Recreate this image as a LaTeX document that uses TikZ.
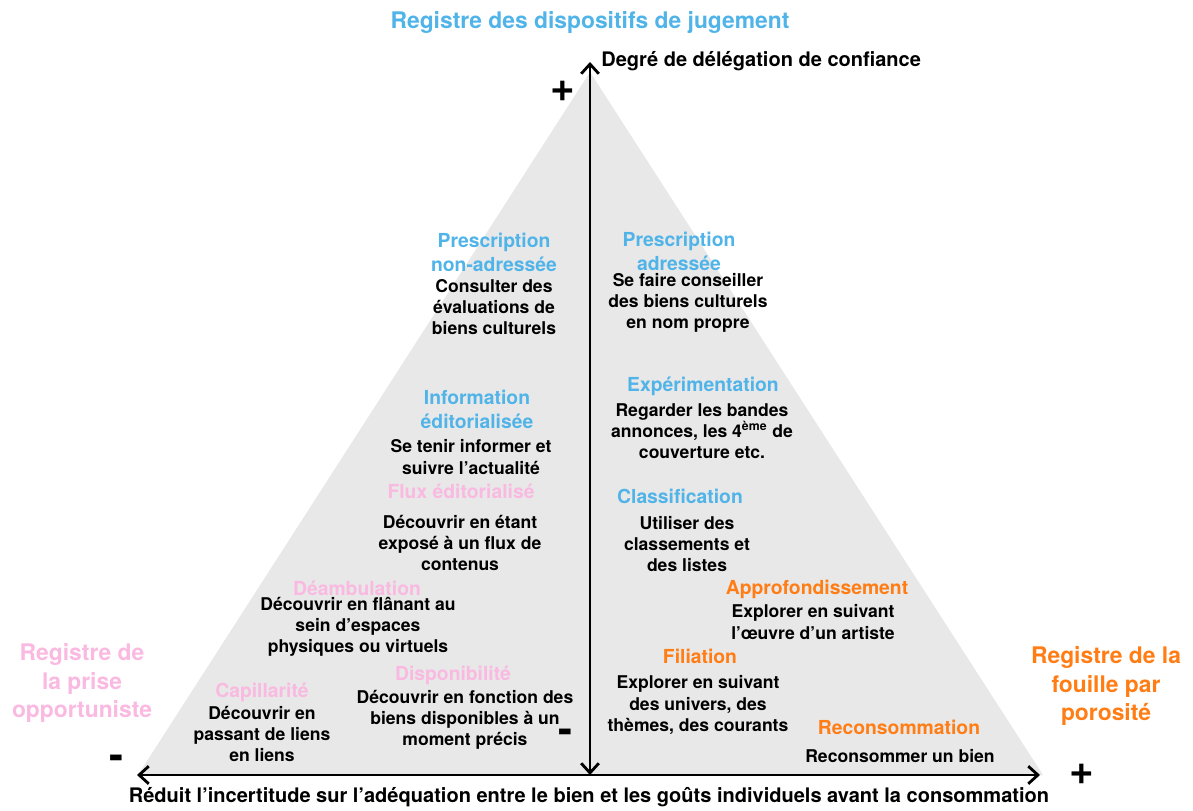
\documentclass[tikz,border=0pt]{standalone}
\usepackage{fontspec}
\setmainfont{TeX Gyre Heros}
\usetikzlibrary{arrows.meta,positioning}
\definecolor{regblue}{RGB}{80,180,232}
\definecolor{regpink}{RGB}{250,185,225}
\definecolor{regorange}{RGB}{255,125,20}
\definecolor{pyrgray}{RGB}{232,232,232}

\begin{document}
\begin{tikzpicture}[x=0.02cm, y=-0.02cm,
    head/.style={font=\bfseries\fontsize{11}{13.6}\selectfont, align=center, inner sep=0pt},
    body/.style={font=\bfseries\fontsize{10}{12}\selectfont, align=center, inner sep=0pt},
    axislabel/.style={font=\bfseries\fontsize{11.4}{13}\selectfont, inner sep=0pt},
    register/.style={font=\bfseries\fontsize{13}{16}\selectfont, align=center, inner sep=0pt},
    sign/.style={font=\bfseries\fontsize{24}{24}\selectfont, inner sep=0pt},
    axis/.style={line width=1.6pt, {Straight Barb[length=5.5pt,width=10pt]}-{Straight Barb[length=5.5pt,width=10pt]}}]
				\useasboundingbox (0,0) rectangle (1193,811);
				% pyramid
				\coordinate (apex) at (590,72);
				\coordinate (left) at (138,775);
				\coordinate (right) at (1043,775);
				\fill[pyrgray] (apex) -- (left) -- (right) -- cycle;
				
				% axes
				\coordinate (v_top) at (590,62);
				\coordinate (v_bot) at (590,775);
				\coordinate (h_left) at (137,775);
				\coordinate (h_right) at (1040,775);
				\draw[axis] (v_bot) -- (v_top);
				\draw[axis] (h_left) -- (h_right);
				
				\node[register, text=regblue] (title) at (590,22) {Registre des dispositifs de jugement};
				\node[axislabel, anchor=west] (vlabel) at (601,61) {Degré de délégation de confiance};
				\node[axislabel] (hlabel) at (589,797) {Réduit l’incertitude sur l’adéquation entre le bien et les goûts individuels avant la consommation};
				\node[sign] (plus_top) at (563,91) {+};
				\node[sign] (plus_right) at (1082,774) {+};
				\node[sign] (minus_left) at (117,762) {-};
				\node[sign] (minus_mid) at (566,736) {-};
				
				\node[register, text=regpink] (reg_prise) at (82,683) {Registre de\\la prise\\opportuniste};
				\node[register, text=regorange] (reg_fouille) at (1106,686) {Registre de la\\fouille par\\porosité};
				
				% blue
				\node[head, text=regblue] (presc_na) at (494,252) {Prescription\\non-adressée};
				\node[body] (presc_na_t) at (494,307) {Consulter des\\évaluations de\\biens culturels};
				\node[head, text=regblue] (presc_a) at (679,251) {Prescription\\adressée};
				\node[body] (presc_a_t) at (688,303) {Se faire conseiller\\des biens culturels\\en nom propre};
				\node[head, text=regblue] (info) at (477,409) {Information\\éditorialisée};
				\node[body] (info_t) at (471,457) {Se tenir informer et\\suivre l’actualité};
				\node[head, text=regblue] (exper) at (703,386) {Expérimentation};
				\node[body] (exper_t) at (702,431) {Regarder les bandes\\annonces, les 4\textsuperscript{ème} de\\couverture etc.};
				\node[head, text=regblue] (classif) at (680,496) {Classification};
				\node[body] (classif_t) at (687,544) {Utiliser des\\classements et\\des listes};
				
				% pink
				\node[head, text=regpink] (flux) at (461,491) {Flux éditorialisé};
				\node[body] (flux_t) at (460,543) {Découvrir en étant\\exposé à un flux de\\contenus};
				\node[head, text=regpink] (deamb) at (357,588) {Déambulation};
				\node[body] (deamb_t) at (358,627) {Découvrir en flânant au\\sein d’espaces\\physiques ou virtuels};
				\node[head, text=regpink] (dispo) at (453,675) {Disponibilité};
				\node[body] (dispo_t) at (465,720) {Découvrir en fonction des\\biens disponibles à un\\moment précis};
				\node[head, text=regpink] (capil) at (262,692) {Capillarité};
				\node[body] (capil_t) at (262,734) {Découvrir en\\passant de liens\\en liens};
				
				% orange
				\node[head, text=regorange] (appro) at (817,589) {Approfondissement};
				\node[body] (appro_t) at (813,622) {Explorer en suivant\\l’œuvre d’un artiste};
				\node[head, text=regorange] (filia) at (700,656) {Filiation};
				\node[body] (filia_t) at (698,705) {Explorer en suivant\\des univers, des\\thèmes, des courants};
				\node[head, text=regorange] (recons) at (899,727) {Reconsommation};
				\node[body] (recons_t) at (900,756) {Reconsommer un bien};
			\end{tikzpicture}
\end{document}
